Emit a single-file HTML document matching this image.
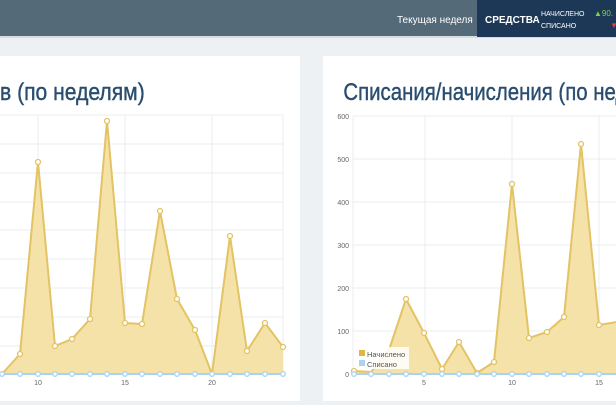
<!DOCTYPE html>
<html><head><meta charset="utf-8"><style>
html,body{margin:0;padding:0;width:616px;height:405px;overflow:hidden;background:#eef1f4;font-family:"Liberation Sans","Noto Sans CJK SC",sans-serif}
</style></head><body>
<svg width="616" height="405" xmlns="http://www.w3.org/2000/svg" style="position:absolute;left:0;top:0">
<rect x="0" y="0" width="616" height="37" fill="#546a78"/>
<rect x="0" y="36" width="616" height="2" fill="#d5dde3"/>
<rect x="477" y="0" width="139" height="37" fill="#1d3856"/>
<text x="397" y="23" font-size="10" fill="#fff">Текущая неделя</text>
<text x="485" y="23" font-size="10" font-weight="bold" fill="#fff">СРЕДСТВА</text>
<text x="541" y="16" font-size="7" fill="#fff">НАЧИСЛЕНО</text>
<text x="541" y="28" font-size="7" fill="#fff">СПИСАНО</text>
<text x="594" y="16" font-size="8" fill="#7ed34a">▲90.</text>
<text x="610" y="28" font-size="8" fill="#e04040">▼</text>

<rect x="-5" y="56" width="305" height="345" fill="#fff"/>
<rect x="323" y="56" width="300" height="345" fill="#fff"/>

<text x="0" y="100" font-size="24" fill="#2a4d70" stroke="#2a4d70" stroke-width="0.4" transform="scale(0.88,1)">в (по неделям)</text>
<text x="404" y="100" font-size="24" fill="#2a4d70" stroke="#2a4d70" stroke-width="0.4" transform="scale(0.85,1)">Списания/начисления (по неделям)</text>

<!-- left chart grid -->
<g stroke="#e8ecef" stroke-width="1" fill="none">
<line x1="0" y1="115" x2="283" y2="115"/><line x1="0" y1="144" x2="283" y2="144"/><line x1="0" y1="173" x2="283" y2="173"/><line x1="0" y1="202" x2="283" y2="202"/><line x1="0" y1="230" x2="283" y2="230"/><line x1="0" y1="259" x2="283" y2="259"/><line x1="0" y1="288" x2="283" y2="288"/><line x1="0" y1="317" x2="283" y2="317"/><line x1="0" y1="346" x2="283" y2="346"/>
<line x1="38" y1="115" x2="38" y2="374"/><line x1="125" y1="115" x2="125" y2="374"/><line x1="212" y1="115" x2="212" y2="374"/><line x1="283" y1="115" x2="283" y2="374"/>
</g>
<polygon fill="#f5e2a8" points="2,374 20,354 38,162 55,346 72,339 90,319 107,121 125,323 142,324 160,211 177,299 195,330 212,374 230,236 247,351 265,323 283,347 283,374 2,374"/>
<polyline fill="none" stroke="#e3c363" stroke-width="2" points="2,374 20,354 38,162 55,346 72,339 90,319 107,121 125,323 142,324 160,211 177,299 195,330 212,374 230,236 247,351 265,323 283,347"/>
<line x1="0" y1="374" x2="283" y2="374" stroke="#a9d3ee" stroke-width="2"/>
<g fill="#fff" stroke="#e3c363" stroke-width="1.3">
<circle cx="20" cy="354" r="2.5"/><circle cx="38" cy="162" r="2.5"/><circle cx="55" cy="346" r="2.5"/><circle cx="72" cy="339" r="2.5"/><circle cx="90" cy="319" r="2.5"/><circle cx="107" cy="121" r="2.5"/><circle cx="125" cy="323" r="2.5"/><circle cx="142" cy="324" r="2.5"/><circle cx="160" cy="211" r="2.5"/><circle cx="177" cy="299" r="2.5"/><circle cx="195" cy="330" r="2.5"/><circle cx="230" cy="236" r="2.5"/><circle cx="247" cy="351" r="2.5"/><circle cx="265" cy="323" r="2.5"/><circle cx="283" cy="347" r="2.5"/>
</g>
<g fill="#fff" stroke="#a9d3ee" stroke-width="1.3">
<circle cx="2" cy="374" r="2.3"/><circle cx="20" cy="374" r="2.3"/><circle cx="38" cy="374" r="2.3"/><circle cx="55" cy="374" r="2.3"/><circle cx="72" cy="374" r="2.3"/><circle cx="90" cy="374" r="2.3"/><circle cx="107" cy="374" r="2.3"/><circle cx="125" cy="374" r="2.3"/><circle cx="142" cy="374" r="2.3"/><circle cx="160" cy="374" r="2.3"/><circle cx="177" cy="374" r="2.3"/><circle cx="195" cy="374" r="2.3"/><circle cx="212" cy="374" r="2.3"/><circle cx="230" cy="374" r="2.3"/><circle cx="247" cy="374" r="2.3"/><circle cx="265" cy="374" r="2.3"/><circle cx="283" cy="374" r="2.3"/>
</g>
<g font-size="7" fill="#666" text-anchor="middle"><text x="38" y="385">10</text><text x="125" y="385">15</text><text x="212" y="385">20</text></g>

<!-- right chart -->
<g stroke="#e8ecef" stroke-width="1" fill="none">
<line x1="353" y1="116" x2="616" y2="116"/><line x1="353" y1="159" x2="616" y2="159"/><line x1="353" y1="202" x2="616" y2="202"/><line x1="353" y1="245" x2="616" y2="245"/><line x1="353" y1="288" x2="616" y2="288"/><line x1="353" y1="331" x2="616" y2="331"/>
<line x1="353" y1="116" x2="353" y2="374"/><line x1="425" y1="116" x2="425" y2="374"/><line x1="512" y1="116" x2="512" y2="374"/><line x1="599" y1="116" x2="599" y2="374"/>
</g>
<g font-size="7" fill="#666" text-anchor="end"><text x="349" y="119">600</text><text x="349" y="162">500</text><text x="349" y="205">400</text><text x="349" y="248">300</text><text x="349" y="291">200</text><text x="349" y="334">100</text><text x="349" y="377">0</text></g>
<polygon fill="#f5e2a8" points="354,371 371,372 389,350 406,299 424,333 442,369 459,342 477,373 494,362 512,184 529,338 547,332 564,317 581,144 599,325 617,322 617,374 354,374"/>
<polyline fill="none" stroke="#e3c363" stroke-width="2" points="354,371 371,372 389,350 406,299 424,333 442,369 459,342 477,373 494,362 512,184 529,338 547,332 564,317 581,144 599,325 617,322"/>
<line x1="353" y1="374" x2="616" y2="374" stroke="#a9d3ee" stroke-width="2"/>
<g fill="#fff" stroke="#e3c363" stroke-width="1.3">
<circle cx="354" cy="371" r="2.5"/><circle cx="406" cy="299" r="2.5"/><circle cx="424" cy="333" r="2.5"/><circle cx="442" cy="369" r="2.5"/><circle cx="459" cy="342" r="2.5"/><circle cx="477" cy="373" r="2.5"/><circle cx="494" cy="362" r="2.5"/><circle cx="512" cy="184" r="2.5"/><circle cx="529" cy="338" r="2.5"/><circle cx="547" cy="332" r="2.5"/><circle cx="564" cy="317" r="2.5"/><circle cx="581" cy="144" r="2.5"/><circle cx="599" cy="325" r="2.5"/>
</g>
<g fill="#fff" stroke="#a9d3ee" stroke-width="1.3">
<circle cx="354" cy="374" r="2.3"/><circle cx="371" cy="374" r="2.3"/><circle cx="389" cy="374" r="2.3"/><circle cx="406" cy="374" r="2.3"/><circle cx="424" cy="374" r="2.3"/><circle cx="442" cy="374" r="2.3"/><circle cx="459" cy="374" r="2.3"/><circle cx="477" cy="374" r="2.3"/><circle cx="494" cy="374" r="2.3"/><circle cx="512" cy="374" r="2.3"/><circle cx="529" cy="374" r="2.3"/><circle cx="547" cy="374" r="2.3"/><circle cx="564" cy="374" r="2.3"/><circle cx="581" cy="374" r="2.3"/><circle cx="599" cy="374" r="2.3"/>
</g>
<rect x="357" y="347" width="52" height="22" fill="#fff" fill-opacity="0.85"/>
<rect x="359" y="350" width="6" height="6" fill="#e3b540"/>
<rect x="359" y="360" width="6" height="6" fill="#a9d3ee"/>
<text x="367" y="357" font-size="7.5" fill="#555">Начислено</text>
<text x="367" y="367" font-size="7.5" fill="#555">Списано</text>
<g font-size="7" fill="#666" text-anchor="middle"><text x="424" y="385">5</text><text x="512" y="385">10</text><text x="599" y="385">15</text></g>
</svg>
</body></html>
